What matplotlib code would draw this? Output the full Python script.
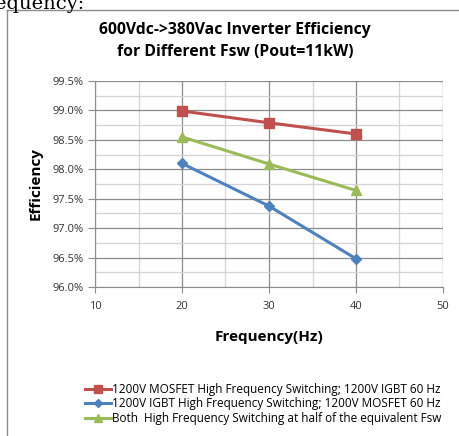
import matplotlib.pyplot as plt
from matplotlib.lines import Line2D
from matplotlib.ticker import MultipleLocator, PercentFormatter

# data
freq = [20, 30, 40]
mosfet_hf = [98.99, 98.79, 98.60]
igbt_hf = [98.10, 97.375, 96.48]
both_hf = [98.55, 98.09, 97.64]
labels = ["1200V MOSFET High Frequency Switching; 1200V IGBT 60 Hz",
          "1200V IGBT High Frequency Switching; 1200V MOSFET 60 Hz",
          "Both  High Frequency Switching at half of the equivalent Fsw"]

plt.rcParams['font.family'] = ['Open Sans', 'DejaVu Sans']

fig = plt.figure(figsize=(4.6, 4.36), dpi=100)
ax = fig.add_axes([95 / 460, 1 - 287 / 436, 348 / 460, 206 / 436])

# plot the series
ax.plot(freq, mosfet_hf, color="#C0504D", marker="s", ms=7, lw=2.2, label=labels[0])
ax.plot(freq, igbt_hf, color="#4F81BD", marker="D", ms=5.5, lw=2.2, label=labels[1])
ax.plot(freq, both_hf, color="#9BBB59", marker="^", ms=7.5, lw=2.2, label=labels[2])

ax.set_xlim(10, 50)
ax.set_ylim(96.0, 99.5)
ax.xaxis.set_major_locator(MultipleLocator(10))
ax.xaxis.set_minor_locator(MultipleLocator(5))
ax.yaxis.set_major_locator(MultipleLocator(0.5))
ax.yaxis.set_minor_locator(MultipleLocator(0.25))
ax.yaxis.set_major_formatter(PercentFormatter(100, decimals=1))

ax.grid(which="major", color="#8c8c8c", lw=0.9)
ax.grid(which="minor", color="#d4d4d4", lw=0.9)
ax.set_axisbelow(True)
for s in ["top", "right"]:
    ax.spines[s].set_visible(False)
for s in ["left", "bottom"]:
    ax.spines[s].set_color("#8c8c8c")
ax.tick_params(which="major", length=5, color="#8c8c8c", labelsize=8, labelcolor="#333333")
ax.tick_params(which="minor", length=0)
ax.tick_params(axis="x", which="major", length=4, pad=6)

ax.set_xlabel("Frequency(Hz)", fontsize=11, fontweight="bold", labelpad=13)
ax.set_ylabel("Efficiency", fontsize=11, fontweight="bold", labelpad=7)

fig.text(0.511, 1 - 30 / 436, "600Vdc->380Vac Inverter Efficiency", ha="center", va="center",
         fontsize=11.3, fontweight="bold")
fig.text(0.511, 1 - 52 / 436, "for Different Fsw (Pout=11kW)", ha="center", va="center",
         fontsize=11.3, fontweight="bold")

leg = fig.legend(loc="upper left", bbox_to_anchor=(80 / 460, 1 - 378 / 436), frameon=False,
                 fontsize=8.5, handlelength=2.2, handletextpad=0.15, labelspacing=0.15,
                 borderaxespad=0, markerscale=0.8)

# chart border and cut-off text above
fig.add_artist(Line2D([7 / 460, 7 / 460], [0, 1 - 10 / 436], color="#8c8c8c", lw=1))
fig.add_artist(Line2D([7 / 460, 1], [1 - 10 / 436, 1 - 10 / 436], color="#8c8c8c", lw=1))
fig.text(-0.01, 1 - 4 / 436, "equency:", fontsize=14, family="DejaVu Serif", va="center")

fig.savefig("out.png", dpi=100)
